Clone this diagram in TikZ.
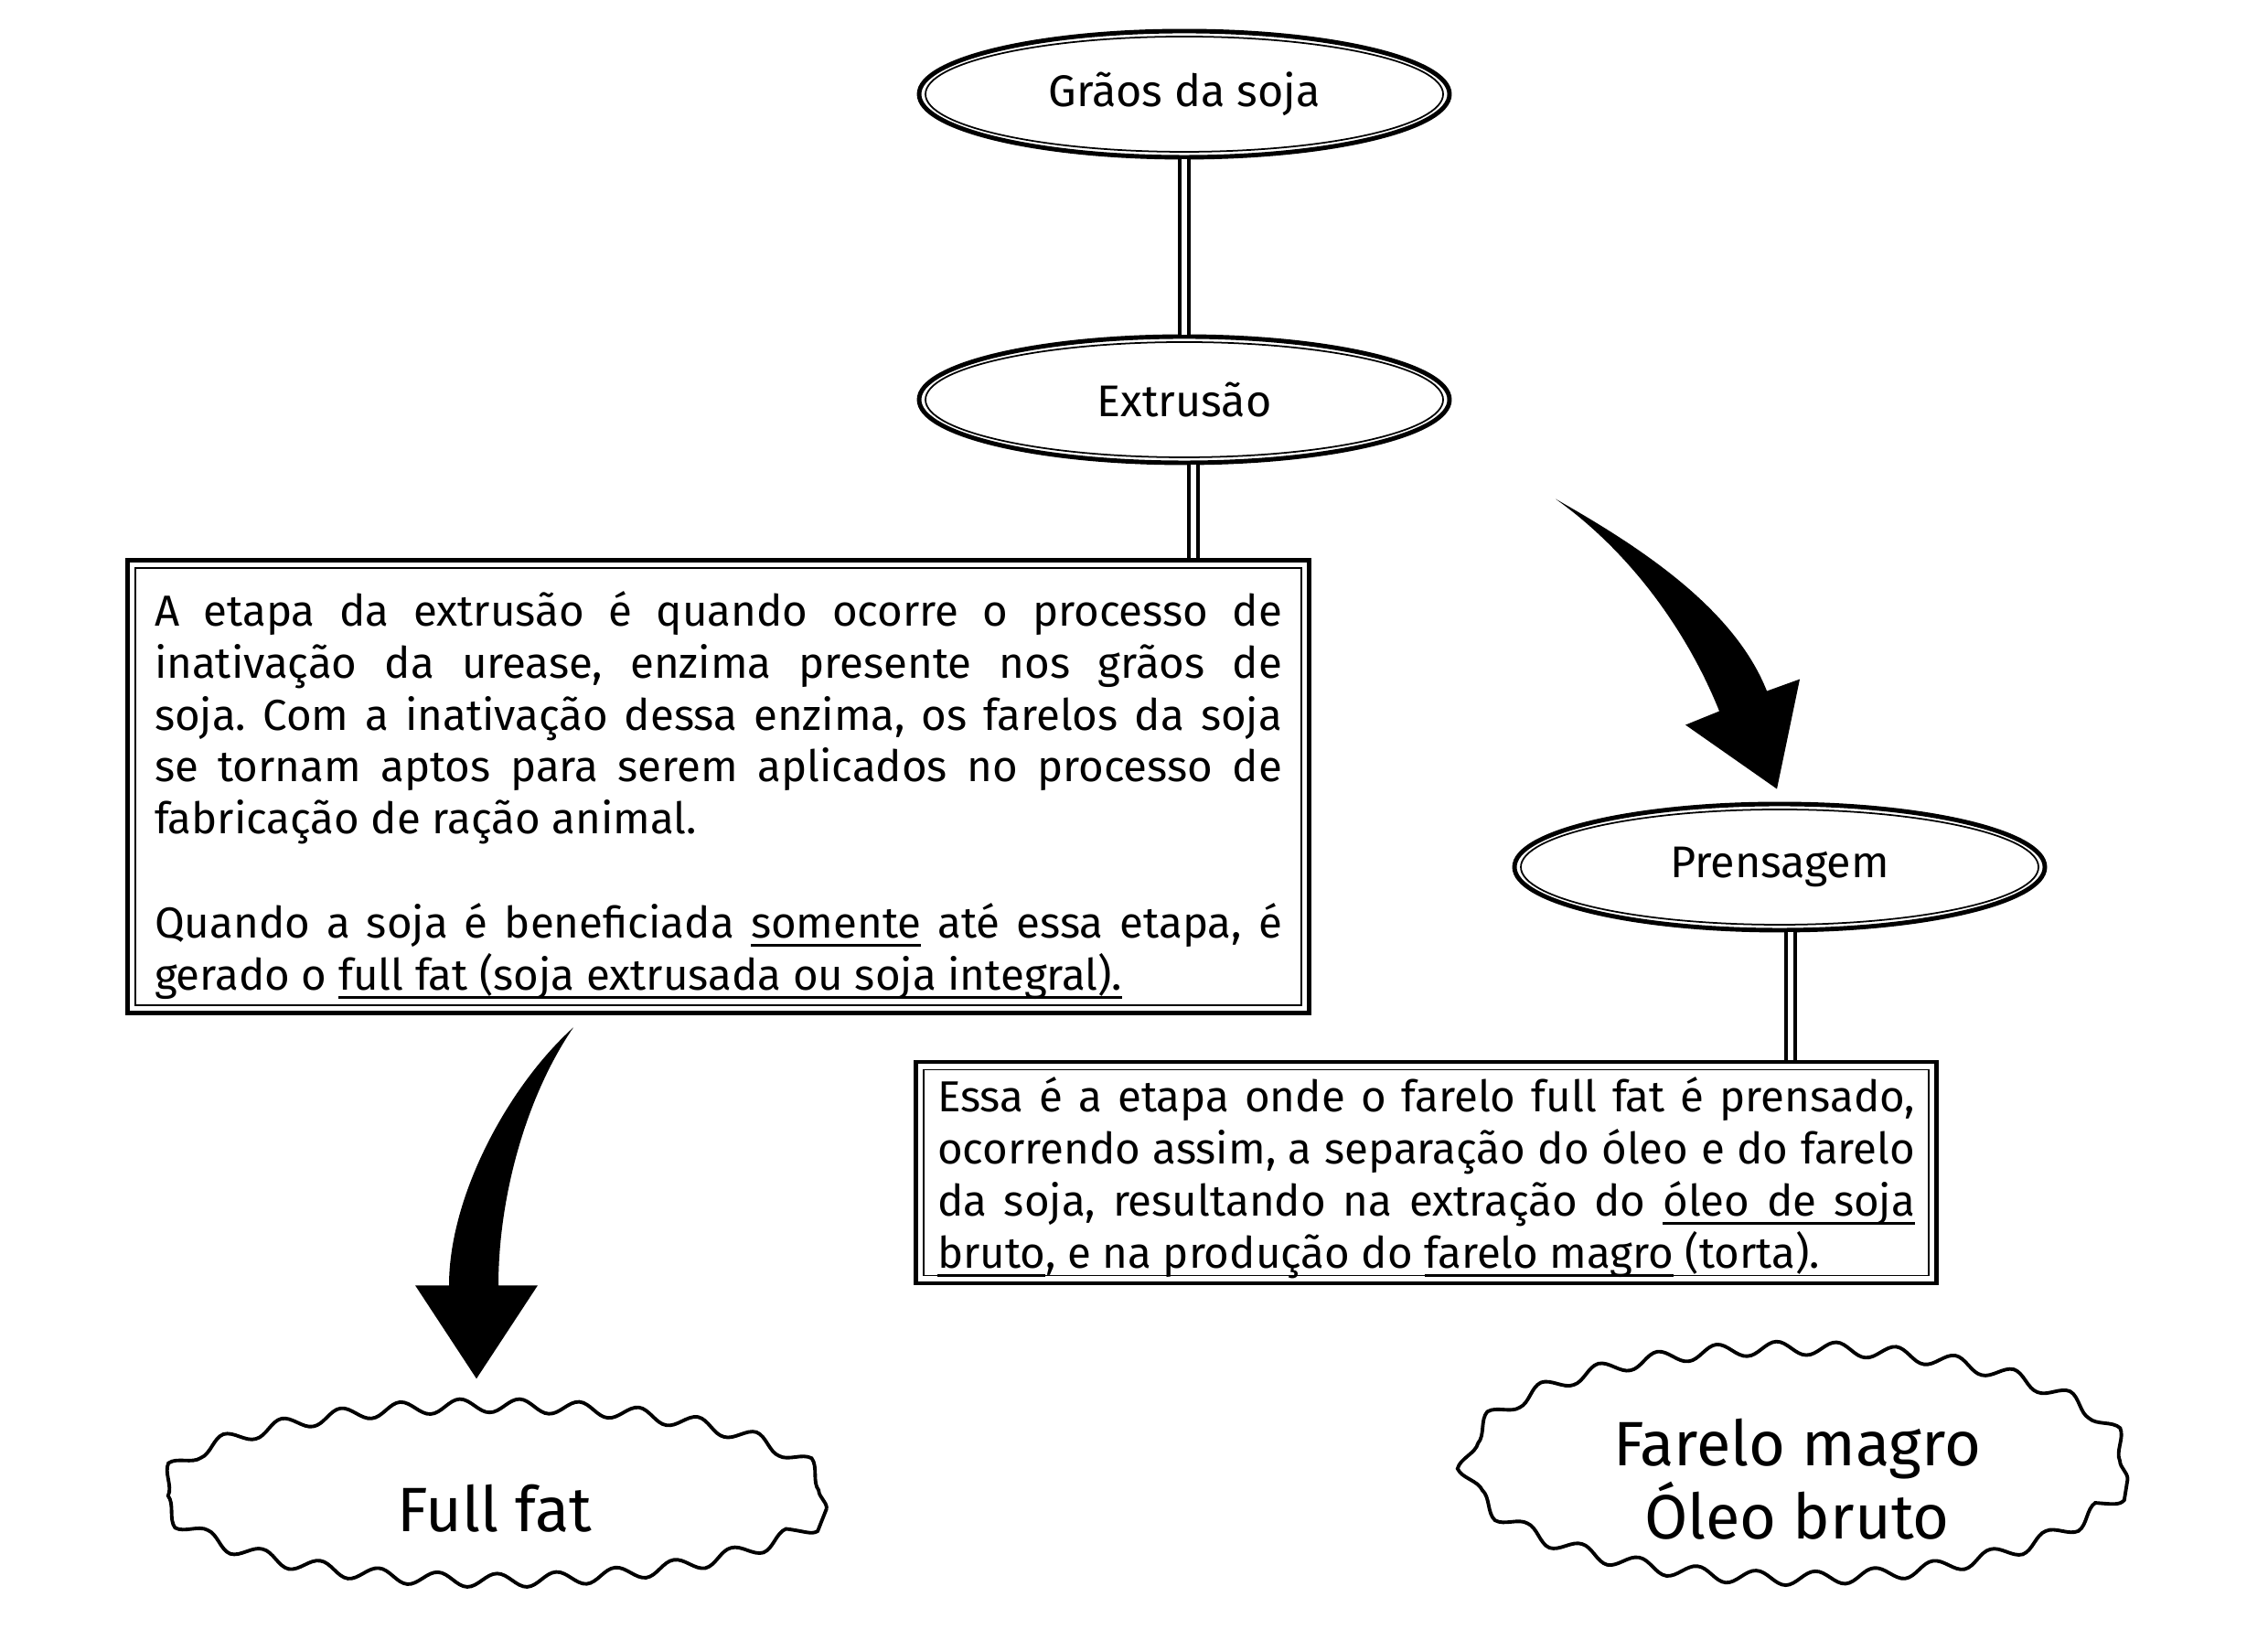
\documentclass[tikz,border=0pt]{standalone}
\usepackage{fontspec}
\setmainfont{Fira Sans}
\usetikzlibrary{shapes.geometric,decorations.pathmorphing,calc}
\hyphenpenalty=10000
\exhyphenpenalty=10000
\frenchspacing

% underlined words and underlined (stretchable) spaces
\newcommand{\uword}[1]{\setbox0\hbox{#1}\rlap{\rule[-2.6pt]{\wd0}{0.7pt}}\box0\relax}
\newcommand{\uspace}{\leaders\hrule height -1.9pt depth 2.6pt\hskip\fontdimen2\font plus\fontdimen3\font minus\fontdimen4\font}

\tikzset{
  stage/.style={ellipse, draw, line width=1.4pt, minimum width=5.80cm, minimum height=1.38cm,
    font=\fontsize{13.8}{16.2}\selectfont},
  stagein/.style={ellipse, draw, line width=0.5pt, minimum width=5.66cm, minimum height=1.26cm},
  infobox/.style={rectangle, draw, line width=1.3pt, align=justify, inner ysep=0.05cm,
    font=\fontsize{13.5}{16.2}\selectfont},
  link/.style={line width=1.3pt, double, double distance=1.6pt},
  product/.style={ellipse, align=center, inner sep=0pt, font=\fontsize{19.5}{22.7}\selectfont},
  wavy/.style={line width=1.1pt, decorate, decoration={snake, segment length=6.5mm, amplitude=0.75mm}},
  bigarrow/.style={fill=black}
}

\begin{document}
\begin{tikzpicture}
  \useasboundingbox (0,0) rectangle (24.8,17.93);

  % stages
  \node[stage] (grains) at (12.95,16.90) {Grãos da soja};
  \node[stage] (extrusion) at (12.95,13.56) {Extrusão};
  \node[stage] (pressing) at (19.46,8.45) {Prensagem};
  \foreach \n in {grains,extrusion,pressing}
    \node[stagein] at (\n.center) {};

  % text boxes
  \node[infobox, text width=12.33cm, inner xsep=0.295cm, minimum height=4.95cm] (extrinfo) at (7.855,9.33) {%
    \rule{0pt}{0.57cm}A etapa da extrusão é quando ocorre o processo de\linebreak
    inativação da urease, enzima presente nos grãos de\linebreak
    soja. Com a inativação dessa enzima, os farelos da soja\linebreak
    se tornam aptos para serem aplicados no processo de\linebreak
    fabricação de ração animal.\par\vspace{\baselineskip}
    Quando a soja é beneficiada \uword{somente} até essa etapa, é\linebreak
    gerado o \uword{full fat (soja extrusada ou soja integral).}};
  \node[infobox, text width=10.69cm, inner xsep=0.235cm, minimum height=2.41cm] (pressinfo) at (15.595,5.11) {%
    \rule{0pt}{0.50cm}Essa é a etapa onde o farelo full fat é prensado,\linebreak
    ocorrendo assim, a separação do óleo e do farelo\linebreak
    da soja, resultando na extração do \uword{óleo}\uspace\uword{de}\uspace\uword{soja}\linebreak
    \uword{bruto}, e na produção do \uword{farelo magro} (torta).};
  \foreach \n in {extrinfo,pressinfo}
    \draw[line width=0.45pt] ([shift={(0.11,-0.11)}]\n.north west) rectangle ([shift={(-0.11,0.11)}]\n.south east);

  % products
  \node[product, minimum width=7.26cm, minimum height=1.87cm] (fullfat) at (5.41,1.44) {Full fat};
  \node[product, minimum width=7.23cm, minimum height=2.53cm] (products) at (19.65,1.76) {Farelo magro\\Óleo bruto};
  \foreach \n/\rx/\ry in {fullfat/3.63/0.935, products/3.615/1.265}
    \draw[wavy, shift={(\n.center)}] plot[domain=0:360, samples=181, variable=\t]
      ({\rx*cos(\t)}, {\ry*sin(\t)}) -- cycle;

  % connectors
  \draw[link] (grains) -- (extrusion);
  \draw[link] ([xshift=1mm]extrusion.south) -- ([xshift=1mm]extrusion.south |- extrinfo.north);
  \draw[link] ([xshift=1.2mm]pressing.south) -- ([xshift=1.2mm]pressing.south |- pressinfo.north);

  % big curved arrows
  \coordinate (presstip) at ([xshift=-0.3mm,yshift=1.4mm]pressing.north);
  \fill[bigarrow, shift={(presstip)}] (0,0) -- (-1.00,0.70) -- (-0.63,0.85)
    .. controls (-0.95,1.65) and (-1.55,2.55) .. (-2.42,3.17)
    .. controls (-1.54,2.67) and (-0.475,1.995) .. (-0.11,1.07) -- (0.25,1.20) -- cycle;

  \coordinate (fattip) at ([xshift=-2mm,yshift=4.75mm]fullfat.north);
  \fill[bigarrow, shift={(fattip)}] (0,0) -- (0.67,1.02) -- (0.24,1.02)
    .. controls (0.24,2.0) and (0.55,3.1) .. (1.06,3.84)
    .. controls (0.35,3.2) and (-0.30,2.0) .. (-0.30,1.02) -- (-0.67,1.02) -- cycle;
\end{tikzpicture}
\end{document}
